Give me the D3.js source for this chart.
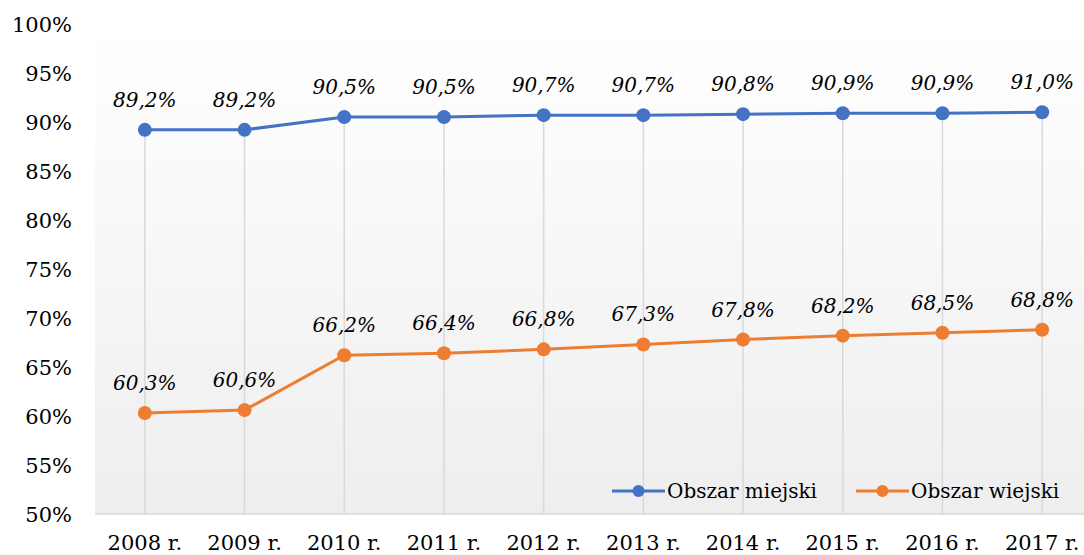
<!DOCTYPE html>
<html>
<head>
<meta charset="utf-8">
<script src="https://cdn.jsdelivr.net/npm/d3@7"></script>
<style>
  body { margin: 0; background: #fff; }
  svg { display: block; font-family: "DejaVu Serif", serif; }
</style>
</head>
<body>
<svg width="1084" height="555"></svg>
<script>
// data
const years = ["2008 r.", "2009 r.", "2010 r.", "2011 r.", "2012 r.", "2013 r.", "2014 r.", "2015 r.", "2016 r.", "2017 r."];
const miejski = [89.2, 89.2, 90.5, 90.5, 90.7, 90.7, 90.8, 90.9, 90.9, 91.0];
const wiejski = [60.3, 60.6, 66.2, 66.4, 66.8, 67.3, 67.8, 68.2, 68.5, 68.8];
const yTicks = [50, 55, 60, 65, 70, 75, 80, 85, 90, 95, 100];

const series = [
  { name: "Obszar miejski", values: miejski, color: "#4472C4" },
  { name: "Obszar wiejski", values: wiejski, color: "#ED7D31" }
];

const svg = d3.select("svg");
const margin = { top: 24, left: 95, bottom: 41 };
const plotRight = 1092;
const height = +svg.attr("height");

const x = d3.scaleBand()
  .domain(years)
  .range([margin.left, plotRight]);

const y = d3.scaleLinear()
  .domain([50, 100])
  .range([height - margin.bottom, margin.top]);

// plot area gradient
const defs = svg.append("defs");
const grad = defs.append("linearGradient")
  .attr("id", "bg").attr("x1", 0).attr("y1", 0).attr("x2", 0).attr("y2", 1);
grad.append("stop").attr("offset", "0%").attr("stop-color", "#ffffff");
grad.append("stop").attr("offset", "100%").attr("stop-color", "#eeeeee");

svg.append("rect")
  .attr("x", margin.left)
  .attr("y", y(100))
  .attr("width", plotRight - margin.left)
  .attr("height", y(50) - y(100))
  .attr("fill", "url(#bg)");

const cx = d => x(d) + x.bandwidth() / 2;

// drop lines from top series to the axis
svg.append("g")
  .selectAll("line")
  .data(years)
  .join("line")
  .attr("x1", cx).attr("x2", cx)
  .attr("y1", (d, i) => y(miejski[i]))
  .attr("y2", y(50))
  .attr("stroke", "#d9d9d9")
  .attr("stroke-width", 1.5);

// x axis line
svg.append("line")
  .attr("x1", margin.left).attr("x2", plotRight)
  .attr("y1", y(50)).attr("y2", y(50))
  .attr("stroke", "#d9d9d9")
  .attr("stroke-width", 1.5);

// y tick labels
svg.append("g")
  .selectAll("text")
  .data(yTicks)
  .join("text")
  .attr("x", 72)
  .attr("y", d => y(d))
  .attr("dy", "0.36em")
  .attr("text-anchor", "end")
  .attr("font-size", 21)
  .attr("fill", "#000")
  .text(d => d + "%");

// x tick labels
svg.append("g")
  .selectAll("text")
  .data(years)
  .join("text")
  .attr("x", cx)
  .attr("y", 550)
  .attr("text-anchor", "middle")
  .attr("font-size", 21)
  .attr("fill", "#000")
  .text(d => d);

const line = d3.line()
  .x((d, i) => cx(years[i]))
  .y(d => y(d));

const fmt = v => v.toFixed(1).replace(".", ",") + "%";

series.forEach((s, si) => {
  const g = svg.append("g");
  g.append("path")
    .datum(s.values)
    .attr("d", line)
    .attr("fill", "none")
    .attr("stroke", s.color)
    .attr("stroke-width", 3);
  g.selectAll("circle")
    .data(s.values)
    .join("circle")
    .attr("cx", (d, i) => cx(years[i]))
    .attr("cy", d => y(d))
    .attr("r", 7)
    .attr("fill", s.color);
  g.selectAll("text")
    .data(s.values)
    .join("text")
    .attr("x", (d, i) => cx(years[i]))
    .attr("y", d => y(d) - 23)
    .attr("text-anchor", "middle")
    .attr("font-size", 20)
    .attr("font-style", "italic")
    .attr("fill", "#000")
    .text(fmt);
});

// legend
const legendX = [612, 856];
const legend = svg.append("g")
  .selectAll("g")
  .data(series)
  .join("g")
  .attr("transform", (d, i) => `translate(${legendX[i]}, 491)`);
legend.append("line")
  .attr("x1", 0).attr("x2", 53)
  .attr("stroke", d => d.color)
  .attr("stroke-width", 3);
legend.append("circle")
  .attr("cx", 26.5).attr("r", 6)
  .attr("fill", d => d.color);
legend.append("text")
  .attr("x", 55)
  .attr("dy", "0.36em")
  .attr("font-size", 20)
  .attr("fill", "#000")
  .text(d => d.name);
</script>
</body>
</html>
